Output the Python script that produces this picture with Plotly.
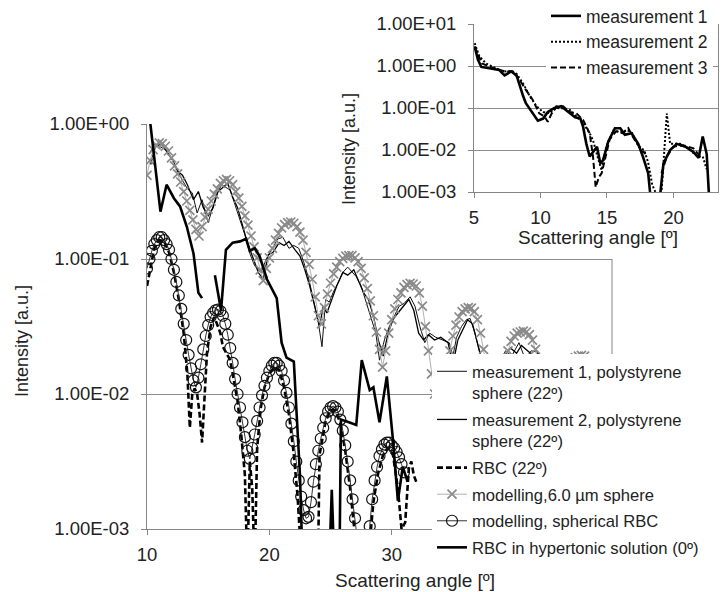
import plotly.graph_objects as go

FONT = "Liberation Sans, Arial, sans-serif"
TXT = "#222222"
GRID = "#8c8c8c"
AXL = "#868686"

# ---------------- main chart data ----------------
meas1_x = [10.2, 10.6, 11.1, 11.5, 12.0, 12.4, 12.85, 13.3, 13.7, 14.1,
           14.5, 15.0, 15.4, 15.7, 16.1, 16.5, 16.8, 17.2, 17.6, 18.0,
           18.4, 18.8, 19.3, 19.8, 20.3, 20.7, 21.1, 21.6, 22.0, 22.4,
           22.8, 23.2, 23.6, 24.0, 24.3, 24.6, 24.9, 25.2, 25.6, 26.0,
           26.4, 26.8, 27.1, 27.5, 27.9, 28.3, 28.7, 29.0, 29.4, 29.8,
           30.2, 30.6, 31.0, 31.5, 31.9, 32.3, 32.7, 33.1, 33.6, 34.1,
           34.7, 35.0, 35.3, 35.7, 36.1, 36.4, 36.8, 37.2, 37.6, 38.0,
           38.8, 39.3, 39.8, 40.4, 40.9, 41.4, 41.9, 42.4, 42.9, 43.5,
           44.0, 44.5, 45.1, 45.6, 46.1, 46.5]
meas1_y = [0.603, 0.708, 0.676, 0.646, 0.562, 0.468, 0.389, 0.331, 0.309, 0.219,
           0.275, 0.186, 0.251, 0.302, 0.355, 0.339, 0.324, 0.251, 0.195, 0.151,
           0.110, 0.0891, 0.0794, 0.102, 0.123, 0.141, 0.145, 0.120, 0.126, 0.120,
           0.0955, 0.0724, 0.0501, 0.0339, 0.0224, 0.0501, 0.0479, 0.0562, 0.0661, 0.0794,
           0.0871, 0.0794, 0.0741, 0.0631, 0.0479, 0.0372, 0.0282, 0.0178, 0.0251, 0.0316,
           0.0380, 0.0447, 0.0468, 0.0525, 0.0447, 0.0316, 0.0240, 0.0282, 0.0263, 0.0251,
           0.0240, 0.0191, 0.0263, 0.0316, 0.0355, 0.0363, 0.0282, 0.0200, 0.0141, 0.0100,
           0.0170, 0.0209, 0.0191, 0.0240, 0.0182, 0.0209, 0.0204, 0.0158, 0.0100, 0.00794,
           0.0112, 0.0126, 0.0174, 0.0182, 0.0170, 0.0126]

meas2_x = [10.3, 10.7, 11.2, 11.6, 12.1, 12.5, 12.9, 13.3, 13.8, 14.2,
           14.6, 15.0, 15.4, 15.8, 16.2, 16.6, 17.0, 17.4, 17.8, 18.2,
           18.7, 19.1, 19.5, 19.9, 20.3, 20.8, 21.2, 21.6, 22.1, 22.5,
           22.9, 23.3, 23.7, 24.1, 24.4, 24.7, 25.1, 25.5, 26.0, 26.4,
           26.9, 27.3, 27.7, 28.1, 28.5, 28.9, 29.3, 29.7, 30.1, 30.5,
           31.0, 31.4, 31.8, 32.2, 32.6, 33.0, 33.5, 34.0, 34.6, 35.0,
           35.4, 35.8, 36.2, 36.6, 37.0, 37.4, 37.8, 38.3, 38.8, 39.2,
           39.7, 40.2, 40.6, 41.1, 41.6, 42.0, 42.5, 43.0, 43.5, 44.0,
           44.6, 45.2, 45.7, 46.2, 46.6]
meas2_y = [0.501, 0.692, 0.708, 0.631, 0.537, 0.447, 0.417, 0.355, 0.275, 0.316,
           0.240, 0.209, 0.240, 0.316, 0.339, 0.363, 0.288, 0.240, 0.178, 0.132,
           0.100, 0.0794, 0.0708, 0.107, 0.112, 0.132, 0.126, 0.135, 0.117, 0.105,
           0.0832, 0.0631, 0.0447, 0.0316, 0.0447, 0.0398, 0.0501, 0.0631, 0.0794, 0.0759,
           0.0832, 0.0692, 0.0562, 0.0501, 0.0380, 0.0251, 0.0191, 0.0282, 0.0355, 0.0398,
           0.0457, 0.0501, 0.0417, 0.0282, 0.0251, 0.0275, 0.0251, 0.0263, 0.0240, 0.0166,
           0.0251, 0.0302, 0.0355, 0.0331, 0.0240, 0.0166, 0.0126, 0.0100, 0.0141, 0.0191,
           0.0219, 0.0200, 0.0229, 0.0209, 0.0191, 0.0200, 0.0141, 0.00794, 0.0100, 0.0126,
           0.0158, 0.0182, 0.0174, 0.0151, 0.0100]

rbc22_x = [10.0, 10.3, 10.6, 11.0, 11.4, 11.8, 12.2, 12.6, 13.0, 13.3,
           13.5, 13.7, 13.9, 14.1, 14.3, 14.5, 14.7, 14.9, 15.2,
           15.5, 15.8, 16.0, 16.2, 16.5, 16.8, 17.1, 17.4, 17.7, 18.0,
           18.2, 18.4, 18.6, 18.8, 19.0, 19.3, 19.6, 20.0, 20.4, 20.8,
           21.2, 21.6, 22.0, 22.3, 22.5, 22.8, 23.2, 23.6, 24.0, 24.1,
           24.3, 24.6, 25.0, 25.4, 25.8, 26.2, 26.6, 27.0, 27.4, 27.8,
           28.2, 28.5, 28.9, 29.3, 29.7, 30.1, 30.5, 30.8, 31.1, 31.4,
           31.6, 31.8, 32.0]
rbc22_y = [0.0631, 0.0891, 0.120, 0.138, 0.135, 0.112, 0.0794, 0.0501, 0.0282, 0.0141,
           0.00562, 0.0100, 0.0110, 0.0100, 0.00708, 0.00437, 0.0100, 0.0200, 0.0316,
           0.0372, 0.0316, 0.0282, 0.0224, 0.0200, 0.0178, 0.0126, 0.00891, 0.00501, 0.00251,
           0.000501, 0.00316, 0.00200, 0.000501, 0.00398, 0.00794, 0.0112, 0.0141, 0.0158, 0.0151,
           0.0112, 0.00708, 0.00355, 0.00178, 0.000891, 0.000501, 0.000398, 0.000501, 0.000794, 0.00355,
           0.00447, 0.00631, 0.00759, 0.00759, 0.00603, 0.00380, 0.00200, 0.00100, 0.000398, 0.000316,
           0.000794, 0.00158, 0.00263, 0.00355, 0.00398, 0.00355, 0.00200, 0.00100, 0.00112, 0.00282,
           0.00316, 0.00251, 0.00224]

sphere_x = [10.0, 10.25, 10.5, 10.75, 11.0, 11.25, 11.5, 11.75, 12.0, 12.25,
            12.5, 12.75, 13.0, 13.25, 13.5, 13.75, 14.0, 14.25, 14.5, 14.75,
            15.0, 15.25, 15.5, 15.75, 16.0, 16.25, 16.5, 16.75, 17.0, 17.25,
            17.5, 17.75, 18.0, 18.25, 18.5, 18.75, 19.0, 19.25, 19.5, 19.75,
            20.0, 20.25, 20.5, 20.75, 21.0, 21.25, 21.5, 21.75, 22.0, 22.25,
            22.5, 22.75, 23.0, 23.25, 23.5, 23.75, 24.0, 24.25, 24.5, 24.75,
            25.0, 25.25, 25.5, 25.75, 26.0, 26.25, 26.5, 26.75, 27.0, 27.25,
            27.5, 27.75, 28.0, 28.25, 28.5, 28.75, 29.0, 29.25, 29.5, 29.75,
            30.0, 30.25, 30.5, 30.75, 31.0, 31.25, 31.5, 31.75, 32.0, 32.25,
            32.5, 32.75, 33.0, 33.25, 33.5, 33.75, 34.0, 34.25, 34.5, 34.75,
            35.0, 35.25, 35.5, 35.75, 36.0, 36.25, 36.5, 36.75, 37.0, 37.25,
            37.5, 37.75, 38.0, 38.25, 38.5, 38.75, 39.0, 39.25, 39.5, 39.75,
            40.0, 40.25, 40.5, 40.75, 41.0, 41.25, 41.5, 41.75, 42.0, 42.25,
            42.5, 42.75, 43.0, 43.25, 43.5, 43.75, 44.0, 44.25, 44.5, 44.75,
            45.0, 45.25, 45.5, 45.75, 46.0, 46.25, 46.5]
sphere_y = [0.417, 0.537, 0.646, 0.700, 0.724,
            0.716, 0.684, 0.631, 0.562, 0.490, 0.427, 0.372, 0.316, 0.269, 0.229, 0.195, 0.166, 0.148,
            0.174, 0.204, 0.234, 0.269, 0.302, 0.331, 0.363, 0.380, 0.389,
            0.380, 0.355, 0.316, 0.282, 0.245, 0.209, 0.178, 0.148, 0.123, 0.102, 0.0832, 0.0692,
            0.0851, 0.102, 0.120, 0.138, 0.155, 0.170, 0.180, 0.186, 0.188,
            0.184, 0.174, 0.158, 0.138, 0.112, 0.0912, 0.0708, 0.0525, 0.0380, 0.0331,
            0.0437, 0.0550, 0.0661, 0.0776, 0.0871, 0.0955, 0.101, 0.105, 0.106, 0.106,
            0.102, 0.0955, 0.0851, 0.0724, 0.0603, 0.0490, 0.0380, 0.0288, 0.0214, 0.0158,
            0.0209, 0.0282, 0.0355, 0.0427, 0.0501, 0.0562, 0.0617, 0.0646, 0.0661, 0.0653,
            0.0631, 0.0562, 0.0447, 0.0316, 0.0209, 0.0141, 0.0100, 0.00708, 0.00501,
            0.00794, 0.0141, 0.0209, 0.0269, 0.0324, 0.0372, 0.0407, 0.0427, 0.0437, 0.0432,
            0.0407, 0.0355, 0.0282, 0.0214, 0.0158, 0.0112, 0.00794, 0.00562, 0.00447,
            0.00794, 0.0158, 0.0209, 0.0245, 0.0269, 0.0282, 0.0288, 0.0292, 0.0288,
            0.0275, 0.0251, 0.0214, 0.0178, 0.0141, 0.0107, 0.00794, 0.00562, 0.00398,
            0.00631, 0.0100, 0.0126, 0.0148, 0.0166, 0.0178, 0.0186, 0.0191, 0.0193, 0.0191,
            0.0182, 0.0166, 0.0145]

rbcmod_x = [10.0, 10.2, 10.4, 10.6, 10.8, 11.0, 11.2, 11.4, 11.6, 11.8,
            12.0, 12.2, 12.4, 12.6, 12.8, 13.0, 13.2, 13.4, 13.6, 13.8,
            14.0, 14.2, 14.4, 14.6, 14.8, 15.0, 15.2, 15.4, 15.6, 15.8,
            16.0, 16.2, 16.4, 16.6, 16.8, 17.0, 17.2, 17.4, 17.6, 17.8,
            18.0, 18.2, 18.4, 18.6, 18.8, 19.0, 19.2, 19.4, 19.6, 19.8,
            20.0, 20.2, 20.4, 20.6, 20.8, 21.0, 21.2, 21.4, 21.6, 21.8,
            22.0, 22.2, 22.4, 22.6, 22.8, 23.0, 23.2, 23.4, 23.6, 23.8,
            24.0, 24.2, 24.4, 24.6, 24.8, 25.0, 25.2, 25.4, 25.6, 25.8,
            26.0, 26.2, 26.4, 26.6, 26.8, 27.0, 27.2, 27.4, 27.6, 27.8,
            28.0, 28.2, 28.4, 28.6, 28.8, 29.0, 29.2, 29.4, 29.6, 29.8,
            30.0, 30.2, 30.4, 30.6, 30.8, 31.0]
rbcmod_y = [0.0851, 0.100, 0.115, 0.129, 0.138, 0.145,
            0.145, 0.138, 0.129, 0.117, 0.100, 0.0832, 0.0676, 0.0537, 0.0427, 0.0331,
            0.0251, 0.0195, 0.0155, 0.0126, 0.0112,
            0.0132, 0.0166, 0.0214, 0.0269, 0.0324, 0.0372, 0.0398, 0.0417, 0.0422, 0.0412,
            0.0380, 0.0331, 0.0275, 0.0219, 0.0170, 0.0129, 0.0100, 0.00794, 0.00617, 0.00479,
            0.00380, 0.00331,
            0.00398, 0.00501, 0.00631, 0.00794, 0.00977, 0.0115, 0.0132, 0.0148, 0.0162, 0.0170,
            0.0170, 0.0162,
            0.0148, 0.0126, 0.0102, 0.00794, 0.00603, 0.00447, 0.00316, 0.00229, 0.00174, 0.00138,
            0.00120, 0.00123,
            0.00158, 0.00224, 0.00302, 0.00380, 0.00468, 0.00562, 0.00661, 0.00741, 0.00794, 0.00813,
            0.00794,
            0.00741, 0.00646, 0.00537, 0.00417, 0.00316, 0.00229, 0.00166, 0.00120, 0.000832, 0.000501,
            0.000251, 0.000316, 0.000631, 0.00105,
            0.00166, 0.00229, 0.00288, 0.00347, 0.00389, 0.00422, 0.00437, 0.00437, 0.00417, 0.00398,
            0.00372, 0.00339, 0.00302, 0.00263]

hyper_x = [10.25, 10.7, 11.1, 11.6, 12.2, 12.7, 13.25, 13.8, 14.2, 14.5,
           15.0,
           15.55, 16.05, 16.45, 17.0, 17.6, 18.1, 18.4, 18.8, 19.2, 19.8,
           20.6, 21.0, 21.4, 21.8, 22.0, 22.2, 22.5, 22.8,
           24.8, 25.1, 25.4, 25.7, 25.85, 26.5, 27.1, 27.55,
           28.2, 28.5, 29.0, 29.6, 30.1, 30.5, 30.9, 31.3]
hyper_y = [1.05, 0.447, 0.224, 0.355, 0.282, 0.245, 0.174, 0.110, 0.0562, 0.0513,
           None,
           0.0759, 0.0417, 0.117, 0.132, 0.135, 0.141, 0.115, 0.120, 0.105, 0.0708,
           0.0513, 0.0240, 0.0186, 0.0178, 0.0174, 0.00794, 0.00251, 0.000316,
           0.000316, 0.00195, 0.000316, 0.000316, 0.00646, 0.00617, 0.00589, 0.0178,
           0.0107, 0.0112, 0.00617, 0.0135, 0.00457, 0.00162, 0.00288, 0.00224]

main_xticks = [10, 20, 30]
main_yticks = [0.001, 0.01, 0.1, 1]
main_yticktext = ["1.00E-03", "1.00E-02", "1.00E-01", "1.00E+00"]

# ---------------- inset data ----------------
ins_m1_x = [5.05, 5.3, 5.55, 6.4, 6.9, 7.3, 7.8, 8.2, 8.45, 8.7,
            8.9, 9.4, 9.8, 10.2, 10.55, 11.05, 11.55, 12.1, 12.6, 13.0,
            13.2, 13.45, 13.7, 13.95, 14.25, 14.5, 14.7, 15.1, 15.6, 16.0,
            16.35, 16.85, 17.35, 17.7, 18.1, 18.4, 18.85, 19.25, 19.75, 20.25,
            20.9, 21.5, 21.9, 22.2, 22.5, 22.75]
ins_m1_y = [2.9, 1.4, 0.95, 0.85, 0.8, 0.6, 0.74, 0.6, 0.32, 0.19,
            0.13, 0.074, 0.05, 0.056, 0.08, 0.1, 0.11, 0.08, 0.06, 0.056,
            0.036, 0.014, 0.007, 0.009, 0.012, 0.0048, 0.0057, 0.016, 0.033, 0.033,
            0.023, 0.025, 0.014, 0.007, 0.0028, 0.0003, 0.0003, 0.0048, 0.01, 0.014,
            0.012, 0.009, 0.0065, 0.021, 0.008, 0.0003]

ins_m2_x = [5.05, 5.4, 5.9, 6.4, 7.2, 7.8, 8.2, 8.7, 9.2, 9.7,
            10.2, 10.7, 11.2, 11.7, 12.2, 12.7, 13.2, 13.7, 13.95, 14.35,
            14.6, 14.95, 15.5, 16.0, 16.5, 16.9, 17.4, 17.8, 18.1, 18.4,
            18.7, 19.1, 19.5, 19.75, 20.5, 21.1, 21.8, 22.2, 22.5]
ins_m2_y = [3.5, 1.7, 1.15, 0.95, 0.73, 0.77, 0.65, 0.38, 0.19, 0.11,
            0.08, 0.075, 0.1, 0.098, 0.09, 0.063, 0.044, 0.025, 0.017, 0.006,
            0.0033, 0.012, 0.03, 0.026, 0.03, 0.025, 0.012, 0.0099, 0.005, 0.0015,
            0.0009, 0.001, 0.074, 0.014, 0.014, 0.011, 0.007, 0.007, 0.0035]

ins_m3_x = [5.05, 5.6, 6.4, 7.4, 7.9, 8.45, 8.9, 9.4, 9.9, 10.3,
            10.55, 10.8, 11.2, 11.7, 12.2, 12.7, 13.2, 13.7, 13.95, 14.15,
            14.4, 14.6, 14.85, 15.2, 15.7, 16.2, 16.6, 17.1, 17.6, 17.9,
            18.5, 19.1, 19.5, 20.0, 20.7, 21.5, 21.9]
ins_m3_y = [2.9, 1.15, 0.9, 0.73, 0.75, 0.46, 0.27, 0.16, 0.075, 0.063,
            0.047, 0.07, 0.11, 0.11, 0.08, 0.075, 0.052, 0.025, 0.007, 0.0013,
            0.0023, 0.0028, 0.006, 0.018, 0.028, 0.025, 0.033, 0.017, 0.01, 0.008,
            None, 0.0028, 0.007, 0.012, 0.013, 0.011, 0.0077]

ins_xticks = [5, 10, 15, 20]
ins_yticks = [0.001, 0.01, 0.1, 1, 10]
ins_yticktext = ["1.00E-03", "1.00E-02", "1.00E-01", "1.00E+00", "1.00E+01"]

fig = go.Figure()

# main traces (legend order)
fig.add_trace(go.Scatter(x=meas1_x, y=meas1_y, mode="lines", legendgroup="g1",
                         name="measurement 1, polystyrene<br>sphere (22º)",
                         line=dict(color="#111111", width=1)))
fig.add_trace(go.Scatter(x=meas2_x, y=meas2_y, mode="lines", legendgroup="g2",
                         name="measurement 2, polystyrene<br>sphere (22º)",
                         line=dict(color="#000000", width=1.3)))
fig.add_trace(go.Scatter(x=rbc22_x, y=rbc22_y, mode="lines", name="RBC (22º)",
                         legendgroup="g3",
                         line=dict(color="#000000", width=2.6, dash="6px,3px")))
fig.add_trace(go.Scatter(x=sphere_x, y=sphere_y, mode="lines+markers",
                         name="modelling,6.0 µm sphere", legendgroup="g4",
                         line=dict(color="#b0b0b0", width=1),
                         marker=dict(symbol="x-thin", size=9,
                                     line=dict(color="#8a8a8a", width=1.7))))
fig.add_trace(go.Scatter(x=rbcmod_x, y=rbcmod_y, mode="lines+markers",
                         name="modelling, spherical RBC", legendgroup="g5",
                         line=dict(color="#333333", width=1),
                         marker=dict(symbol="circle-open", size=11, color="#111111",
                                     line=dict(width=1.2))))
fig.add_trace(go.Scatter(x=hyper_x, y=hyper_y, mode="lines",
                         name="RBC in hypertonic solution (0º)", legendgroup="g6",
                         line=dict(color="#000000", width=2.6)))

# inset traces
fig.add_trace(go.Scatter(x=ins_m1_x, y=ins_m1_y, mode="lines", name="measurement 1",
                         xaxis="x2", yaxis="y2", legend="legend2",
                         line=dict(color="#000000", width=2.6)))
fig.add_trace(go.Scatter(x=ins_m2_x, y=ins_m2_y, mode="lines", name="measurement 2",
                         xaxis="x2", yaxis="y2", legend="legend2",
                         line=dict(color="#000000", width=2, dash="2px,2px")))
fig.add_trace(go.Scatter(x=ins_m3_x, y=ins_m3_y, mode="lines", name="measurement 3",
                         xaxis="x2", yaxis="y2", legend="legend2",
                         line=dict(color="#000000", width=2, dash="6px,3px")))

W, H = 727, 592
tickfont = dict(family=FONT, size=18.5, color=TXT)

fig.update_layout(
    width=W, height=H,
    margin=dict(l=0, r=0, t=0, b=0, autoexpand=False),
    paper_bgcolor="white", plot_bgcolor="white",
    font=dict(family=FONT, color=TXT),
    xaxis=dict(domain=[147 / W, 612 / W], anchor="y", range=[10, 48],
               tickmode="array", tickvals=main_xticks,
               showline=True, linecolor=AXL, linewidth=1,
               ticks="outside", ticklen=5, tickcolor=AXL,
               showgrid=False, zeroline=False, tickfont=tickfont,
               ticklabelstandoff=4, automargin=False),
    yaxis=dict(domain=[1 - 529 / H, 1 - 124 / H], anchor="x", type="log",
               range=[-3, 0], tickmode="array", tickvals=main_yticks,
               ticktext=main_yticktext,
               showline=True, linecolor=AXL, linewidth=1,
               ticks="outside", ticklen=5, tickcolor=AXL,
               showgrid=True, gridcolor=GRID, gridwidth=1,
               zeroline=False, tickfont=tickfont, ticklabelstandoff=8,
               automargin=False),
    xaxis2=dict(domain=[474 / W, 718 / W], anchor="y2", range=[5, 23.35],
                tickmode="array", tickvals=ins_xticks,
                showline=True, linecolor=AXL, linewidth=1,
                ticks="outside", ticklen=5, tickcolor=AXL,
                showgrid=False, zeroline=False, tickfont=tickfont,
                ticklabelstandoff=4, automargin=False),
    yaxis2=dict(domain=[1 - 192 / H, 1 - 24 / H], anchor="x2", type="log",
                range=[-3, 1], tickmode="array", tickvals=ins_yticks,
                ticktext=ins_yticktext,
                showline=True, mirror=True, linecolor=AXL, linewidth=1,
                ticks="outside", ticklen=5, tickcolor=AXL,
                showgrid=True, gridcolor=GRID, gridwidth=1,
                zeroline=False, tickfont=tickfont, ticklabelstandoff=8,
                automargin=False),
    legend=dict(x=432 / W, y=1 - 354 / H, xanchor="left", yanchor="top",
                bgcolor="white", borderwidth=0, valign="top",
                font=dict(family=FONT, size=16.6, color=TXT),
                tracegroupgap=2),
    legend2=dict(x=546 / W, y=1 + 2 / H, xanchor="left", yanchor="top",
                 bgcolor="white", borderwidth=0,
                 font=dict(family=FONT, size=17.5, color=TXT)),
    showlegend=True,
    annotations=[
        dict(text="Scattering angle [º]", xref="paper", yref="paper",
             x=415 / W, y=1 - 580 / H, xanchor="center", yanchor="middle",
             showarrow=False, font=dict(family=FONT, size=19, color=TXT)),
        dict(text="Intensity [a.u.]", xref="paper", yref="paper",
             x=22 / W, y=1 - 341 / H, xanchor="center", yanchor="middle",
             textangle=-90, showarrow=False,
             font=dict(family=FONT, size=18, color=TXT)),
        dict(text="Scattering angle [º]", xref="paper", yref="paper",
             x=598 / W, y=1 - 238 / H, xanchor="center", yanchor="middle",
             showarrow=False, font=dict(family=FONT, size=19, color=TXT)),
        dict(text="Intensity [a.u.]", xref="paper", yref="paper",
             x=349 / W, y=1 - 149 / H, xanchor="center", yanchor="middle",
             textangle=-90, showarrow=False,
             font=dict(family=FONT, size=18, color=TXT)),
    ],
    shapes=[
        # white panel behind the inset hides the main top gridline there
        dict(type="rect", xref="x", yref="y", x0=24.8, x1=48, y0=0.3, y1=1.0,
             fillcolor="white", line=dict(width=0), layer="between"),
        # right border of the main plot area (lower part hidden by legend)
        dict(type="line", xref="x domain", yref="y domain", x0=1, x1=1,
             y0=0, y1=2 / 3, line=dict(color=AXL, width=1)),
    ],
)

fig.write_html("out.html",
               config={"displayModeBar": False},
               post_script="document.body.style.margin='0px';"
                           "document.body.style.padding='0px';")
